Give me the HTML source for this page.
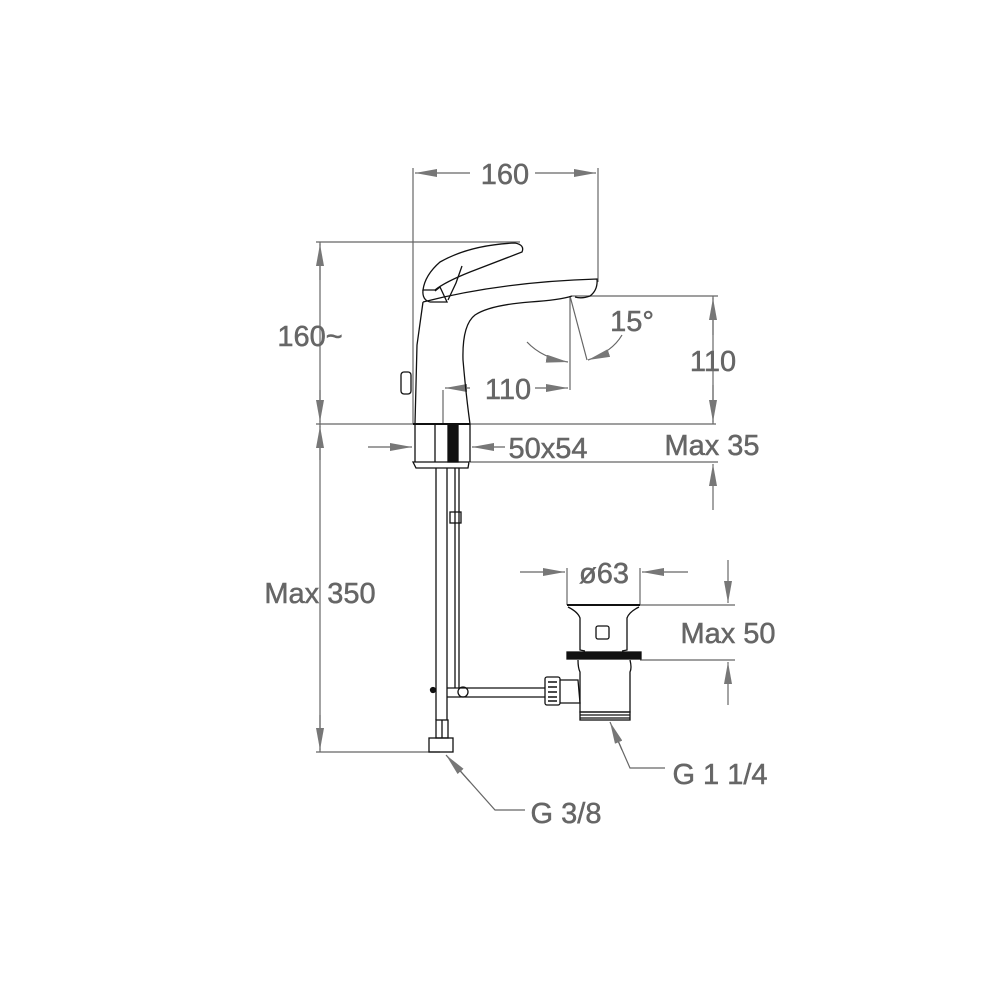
<!DOCTYPE html>
<html><head><style>
html,body{margin:0;padding:0;background:#fff;}
svg{display:block;}
text{font-family:"Liberation Sans",Arial,sans-serif;font-size:29px;fill:#666;stroke:#666;stroke-width:0.5;}
</style></head><body>
<svg width="1000" height="1000" viewBox="0 0 1000 1000" xmlns="http://www.w3.org/2000/svg">
<defs>
<marker id="b" viewBox="0 0 22 8" refX="22" refY="4" markerWidth="22" markerHeight="8" markerUnits="userSpaceOnUse" orient="auto"><path d="M0,0 L22,4 L0,8 z" fill="#777"/></marker>
</defs>
<g stroke="#666" stroke-width="1.2" fill="none">
<line x1="413" y1="168" x2="413" y2="424"/>
<line x1="598" y1="168" x2="598" y2="282"/>
<line x1="470" y1="173" x2="415" y2="173" marker-end="url(#b)"/>
<line x1="535" y1="173" x2="596" y2="173" marker-end="url(#b)"/>
<line x1="316" y1="242" x2="520" y2="242"/>
<line x1="320" y1="242" x2="320" y2="752"/>
<line x1="320" y1="280" x2="320" y2="244" marker-end="url(#b)"/>
<line x1="320" y1="390" x2="320" y2="422" marker-end="url(#b)"/>
<line x1="320" y1="460" x2="320" y2="426" marker-end="url(#b)"/>
<line x1="320" y1="715" x2="320" y2="750" marker-end="url(#b)"/>
<line x1="316" y1="424" x2="716" y2="424"/>
<line x1="316" y1="752" x2="440" y2="752"/>
<line x1="572" y1="296" x2="718" y2="296"/>
<line x1="713" y1="296" x2="713" y2="424"/>
<line x1="713" y1="335" x2="713" y2="298" marker-end="url(#b)"/>
<line x1="713" y1="385" x2="713" y2="422" marker-end="url(#b)"/>
<line x1="470" y1="462" x2="718" y2="462"/>
<line x1="713" y1="510" x2="713" y2="464" marker-end="url(#b)"/>
<line x1="368" y1="447" x2="412" y2="447" marker-end="url(#b)"/>
<line x1="505" y1="447" x2="472" y2="447" marker-end="url(#b)"/>
<line x1="443" y1="390" x2="443" y2="424"/>
<line x1="570" y1="296" x2="570" y2="390"/>
<line x1="470" y1="388" x2="445" y2="388" marker-end="url(#b)"/>
<line x1="535" y1="388" x2="568" y2="388" marker-end="url(#b)"/>
<line x1="570" y1="296" x2="587" y2="360"/>
<path d="M527,342 Q542,358 568,362" marker-end="url(#b)"/>
<path d="M622,335 Q612,352 588,360" marker-end="url(#b)"/>
<line x1="567" y1="568" x2="567" y2="605"/>
<line x1="640" y1="568" x2="640" y2="605"/>
<line x1="520" y1="572" x2="565" y2="572" marker-end="url(#b)"/>
<line x1="688" y1="572" x2="642" y2="572" marker-end="url(#b)"/>
<line x1="640" y1="605" x2="735" y2="605"/>
<line x1="640" y1="660" x2="735" y2="660"/>
<line x1="728" y1="560" x2="728" y2="603" marker-end="url(#b)"/>
<line x1="728" y1="705" x2="728" y2="662" marker-end="url(#b)"/>
<polyline points="665,768 630,768 612,727"/>
<line x1="622" y1="750" x2="610" y2="722" marker-end="url(#b)"/>
<polyline points="525,810 495,810 447,756"/>
<line x1="470" y1="782" x2="446" y2="755" marker-end="url(#b)"/>
</g>
<g stroke="#111" stroke-width="1.3" fill="none">
<path d="M423,290 Q425,275 440,262 Q470,245 515,243 Q525,245 522,252 L470,272 Q445,282 435,290 Z"/>
<path d="M435,291 L440,287 L447,302 L430,302"/>
<path d="M462,266 L456,283 L448,300"/>
<path d="M423,290 Q422,300 430,302"/>
<path d="M423,302 L417,345 L415,424"/>
<path d="M423,302 Q500,282 597,279 Q598,290 590,296 Q582,299 575,297"/>
<path d="M572,296 Q560,300 530,302 Q490,305 475,315 Q462,325 463,360 Q466,395 470,424"/>
<rect x="401" y="372" width="10" height="22" rx="3"/>
<line x1="413" y1="424" x2="470" y2="424" stroke-width="2"/>
<line x1="415" y1="424" x2="415" y2="462"/>
<line x1="470" y1="424" x2="470" y2="462"/>
<path d="M413,462 L469,462 L468,468 L416,468 Z"/>
<rect x="448" y="424" width="10" height="38" fill="#111"/>
<line x1="435" y1="424" x2="435" y2="462"/>
<line x1="436" y1="468" x2="436" y2="720"/>
<line x1="447" y1="468" x2="447" y2="720"/>
<line x1="455" y1="468" x2="455" y2="688"/>
<line x1="459" y1="468" x2="459" y2="688"/>
<rect x="450" y="512" width="11" height="11"/>
<rect x="436" y="720" width="12" height="18"/>
<line x1="442" y1="720" x2="442" y2="738"/>
<rect x="429" y="738" width="24" height="14"/>
<circle cx="433" cy="690" r="2.5" fill="#111"/>
<line x1="447" y1="688" x2="545" y2="688"/>
<line x1="447" y1="697" x2="545" y2="697"/>
<circle cx="463" cy="692" r="5"/>
<rect x="545" y="677" width="15" height="28" rx="2"/>
<g stroke-width="1.5"><line x1="548" y1="682" x2="557" y2="682"/><line x1="548" y1="687" x2="557" y2="687"/><line x1="548" y1="692" x2="557" y2="692"/><line x1="548" y1="697" x2="557" y2="697"/><line x1="548" y1="701" x2="557" y2="701"/></g>
<path d="M560,680 L578,680 L580,703 L560,703"/>
<line x1="567" y1="605" x2="640" y2="605" stroke-width="2"/>
<path d="M568,607 Q578,612 580,618 L580,650 L585,651"/>
<path d="M639,607 Q629,612 627,618 L627,650 L622,651"/>
<rect x="596" y="626" width="13" height="13" rx="2"/>
<rect x="567" y="652" width="74" height="7" fill="#111"/>
<path d="M578,660 Q578,668 580,672 L580,712 L630,712 L630,672 Q632,668 630,660"/>
<rect x="580" y="712" width="50" height="8"/>
<line x1="580" y1="715" x2="630" y2="715"/>
<line x1="580" y1="718" x2="630" y2="718"/>
</g>
<text x="505" y="184" text-anchor="middle">160</text>
<text x="310" y="346" text-anchor="middle">160~</text>
<text x="320" y="603" text-anchor="middle">Max 350</text>
<text x="713" y="371" text-anchor="middle">110</text>
<text x="508" y="399" text-anchor="middle">110</text>
<text x="712" y="455" text-anchor="middle">Max 35</text>
<text x="548" y="458" text-anchor="middle">50x54</text>
<text x="632" y="331" text-anchor="middle">15°</text>
<text x="604" y="583" text-anchor="middle">ø63</text>
<text x="728" y="643" text-anchor="middle">Max 50</text>
<text x="720" y="784" text-anchor="middle">G 1 1/4</text>
<text x="566" y="823" text-anchor="middle">G 3/8</text>
</svg>
</body></html>
